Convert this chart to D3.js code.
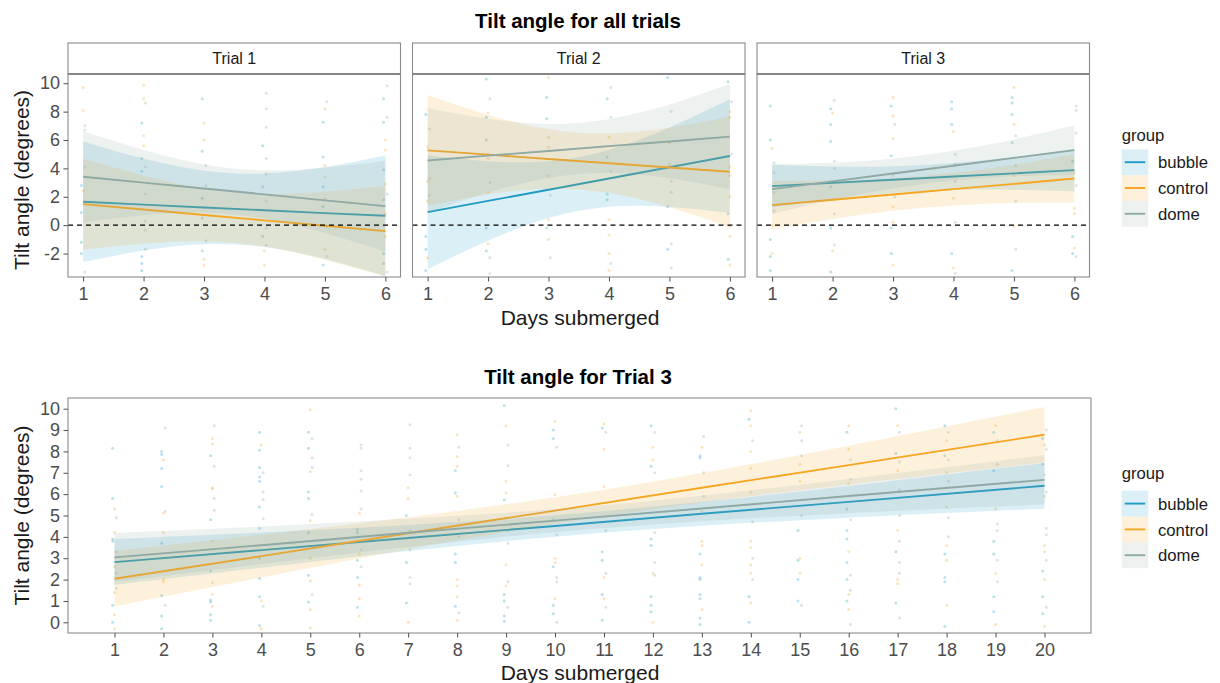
<!DOCTYPE html>
<html><head><meta charset="utf-8">
<script src="https://cdn.jsdelivr.net/npm/d3@7"></script>
<style>body{margin:0;background:#fff;} text{font-family:"Liberation Sans",Arial,sans-serif;}</style>
</head><body><svg id="chart" width="1220" height="683"></svg>
<script>
// ---------- data ----------
const groups = ["bubble", "control", "dome"];
const groupColors = ["#1F9BC4", "#F5A623", "#8FA9A4"];
const trialNames = ["Trial 1", "Trial 2", "Trial 3"];
const daysTop = [1, 2, 3, 4, 5, 6];
const topYTicks = [-2, 0, 2, 4, 6, 8, 10];
const daysBottom = [1,2,3,4,5,6,7,8,9,10,11,12,13,14,15,16,17,18,19,20];
const bottomYTicks = [0,1,2,3,4,5,6,7,8,9,10];
const bottomKnots = [1, 4, 7, 10, 13, 16, 20];

// fitted lines and confidence bands at daysTop, per group [bubble, control, dome]
const t1Fit = [[1.65,1.45,1.25,1.05,0.85,0.66],[1.48,1.10,0.72,0.34,-0.04,-0.42],[3.41,3.00,2.58,2.17,1.75,1.34]];
const t1Lo  = [[-2.60,-1.79,-1.34,-1.54,-2.39,-3.59],[-1.72,-1.30,-1.13,-1.51,-2.44,-3.62],[0.21,0.70,0.88,0.47,-0.55,-1.86]];
const t1Hi  = [[5.90,4.69,3.84,3.64,4.09,4.91],[4.68,3.50,2.57,2.19,2.36,2.78],[6.61,5.30,4.28,3.87,4.05,4.54]];
const t2Fit = [[0.92,1.71,2.50,3.29,4.08,4.87],[5.27,4.97,4.66,4.36,4.06,3.76],[4.56,4.90,5.23,5.57,5.90,6.24]];
const t2Lo  = [[-3.08,-1.09,0.50,1.29,1.28,0.87],[1.37,2.17,2.56,2.26,1.26,-0.14],[0.86,2.30,3.33,3.67,3.30,2.54]];
const t2Hi  = [[4.92,4.51,4.50,5.29,6.88,8.87],[9.17,7.77,6.76,6.46,6.86,7.66],[8.26,7.50,7.13,7.47,8.50,9.94]];
const t3Fit = [[2.75,2.98,3.20,3.43,3.65,3.88],[1.41,1.79,2.16,2.54,2.91,3.29],[2.54,3.09,3.64,4.19,4.74,5.29]];
const t3Lo  = [[1.25,1.83,2.25,2.48,2.50,2.38],[-0.29,0.44,1.01,1.39,1.56,1.59],[0.79,1.79,2.59,3.14,3.44,3.54]];
const t3Hi  = [[4.25,4.13,4.15,4.38,4.80,5.38],[3.11,3.14,3.31,3.69,4.26,4.99],[4.29,4.39,4.69,5.24,6.04,7.04]];

// raw observations per group, per day
const t1Pts = [
  [[2.8,0.9,-1.2,-2.0],[7.2,4.7,3.8,-2.2,-2.7,-3.2],[8.9,5.2,1.9,0.5,-1.8],[5.6,2.7,-0.8],[7.25,4.8,2.7,1.3,-2.8],[8.9,7.25,3.9,1.8,-2.0,-2.7]],
  [[9.7,8.1,2.4],[9.85,8.9,6.3,5.6],[7.2,6.0,-2.4,-2.8],[-1.8,-2.8],[8.2,4.2,3.4,1.9,-1.7],[6.0,5.3,2.9,0.8,-0.8]],
  [[7.0,6.7,4.1,-3.3],[8.6,4.1,2.2,0.3,-0.35,-1.7],[4.2,2.8,-1.1],[9.3,8.2,6.9,4.7,3.6,1.7,-0.2,-1.4],[8.7,-0.1,-2.2],[9.8,7.6,2.2,-3.3]]
];
const t2Pts = [
  [[7.8,-0.8,-1.7,-3.2],[10.3,7.6,6.0,-0.2,-1.8],[9.0,7.5,-0.2],[8.9,4.8,2.2,1.8],[10.4,1.3,-1.7],[10.1,0.8,-2.4]],
  [[5.5,3.1,1.7,-2.3],[7.9,5.0,4.7,2.3,-1.3],[10.4,6.2,5.5,3.5,0.4,-1.0],[6.2,0.4,-0.7,-2.0,-3.2],[5.8,4.3],[8.0,7.6,4.1,3.5,2.0,-0.1,-0.8,-2.8]],
  [[6.8,3.3,2.1],[8.9,3.0,-2.3,-3.4],[2.1,-2.3],[9.7,7.6,3.8,-2.7],[8.0,3.1,2.3,0.0,-1.3,-3.0],[8.7,5.0]]
];
const t3Pts = [
  [[8.4,6.0,-1.0,-2.2,-3.2],[8.2,7.1,5.9,2.7,-0.2,-3.3],[8.4,4.9,-0.2,-2.0],[8.7,8.2,7.1,-2.0],[9.0,8.6,7.8,5.8,-3.2],[4.5,-0.8,-2.0]],
  [[5.4,0.0,-2.0],[7.9,1.8,-1.8],[9.0,7.7,6.1,3.5,1.3,0.2,-2.8],[6.6,1.9,-3.0],[9.7,7.1,3.5,-0.1],[3.7,1.2,0.8,-1.6]],
  [[4.4,3.7,2.3,1.0],[8.8,4.5,4.0,0.8,-1.4],[7.1,2.0],[5.0,4.3,3.1,0.2,-3.4],[6.3,4.2,1.7,-1.7],[8.4,8.1,6.5,2.8,-2.2]]
];

// Trial 3 long run: fits at bottomKnots
const bFit = [[2.82,3.38,3.95,4.51,5.08,5.64,6.39],[2.04,3.10,4.17,5.23,6.30,7.36,8.78],[3.04,3.61,4.19,4.76,5.33,5.91,6.67]];
const bLo  = [[1.75,2.56,3.34,4.01,4.52,4.90,5.32],[0.74,2.10,3.42,4.61,5.61,6.45,7.48],[1.89,2.73,3.53,4.22,4.73,5.11,5.52]];
const bHi  = [[3.89,4.20,4.56,5.01,5.64,6.38,7.46],[3.34,4.10,4.92,5.85,6.99,8.27,10.08],[4.19,4.49,4.85,5.30,5.93,6.71,7.82]];
const bBubblePts = [[8.15,5.8,3.9,3.8,0.8,0.0],[8.0,7.85,7.2,6.35,3.7,1.25,0.3,-0.3],[7.8,4.8,2.4,1.05,0.95,0.35,0.1],[8.9,8.05,7.25,6.8,6.6,5.4,4.4,3.0,2.05,1.2,-0.15],[8.9,8.15,6.1,5.8,4.2,2.2,0.95],[4.35,4.2,2.9,2.1,0.7],[5.0,2.8,0.9],[7.1,6.05,3.2,2.8,0.75],[10.15,5.74,1.3,1.0,0.3,0.05],[9.0,8.6,4.8,2.6,0.8,0.4],[9.1,3.3,2.9,1.3,0.1],[9.2,7.3,3.9,3.6,1.2,0.8,0.5],[7.8,7.7,3.2,2.1,2.0,1.3,1.1,0.2,-0.1],[9.5,1.2,0.0],[4.3,2.9,2.0,1.0],[8.9,5.3,4.3,3.9,2.8,2.0,1.0],[10.0,7.9,3.3,0.9],[9.2,7.8,3.2,2.1,1.9,-0.2],[8.9,7.1,3.8,3.2,1.2,0.5],[8.6,7.4,2.4,1.2,0.4]];
const bControlPts = [[5.3,4.2,2.6,1.4,0.35,-0.3],[7.6,5.1,4.2,2.0,1.9],[8.6,8.35,6.3,6.25,3.8,1.85,1.3,0.75],[8.3,1.0,-0.3],[9.95,7.05,4.75,3.0,1.95,0.6,-0.25],[5.1,3.2,1.75,1.1,0.3],[6.3,5.8,0.0],[8.78,7.75,7.3,5.9,2.0,1.7,1.2,0.1],[9.2,6.6,6.05,2.7,1.7],[9.4,5.97,3.0,2.8,1.1],[9.3,8.1,6.36,2.1,1.1],[8.2,7.6,2.3,0.0],[8.2,5.2,3.8,3.6,2.7,0.6],[9.9,9.2,8.0,7.2,6.1,3.8,3.5,2.7,2.3,0.9],[8.9,7.4,6.6,3.0,2.3],[9.2,8.1,6.5,3.3,1.3,0.6],[9.2,7.1,4.3,2.0,1.8],[8.5,7.0,5.4,3.6,2.9,0.8],[9.2,5.3,2.3,-0.1],[8.3,6.9,5.9,3.6,3.3,2.0,-0.2]];
const bDomePts = [[4.9,3.3,2.3,1.6],[9.1,5.2,0.8],[9.2,7.3,5.8,5.25],[7.0,6.1,5.75,4.85,0.75],[8.6,7.7,7.25,5.05,1.3],[8.3,8.15,7.1,6.7,6.15,5.3,3.4,2.6],[9.25,8.15,7.7,6.9,4.3,3.4,2.1,1.8],[8.2,4.8,4.0,0.45],[8.3,7.33,4.3,3.7,1.9,0.7],[8.2,4.1,2.1,1.9,0.0],[8.9,4.3,2.3,0.7],[8.9,7.0,4.2,2.8,2.2],[8.7,7.0,5.9],[8.5,4.7,3.0,2.0],[9.2,8.5,7.8,5.0,0.8],[7.6,6.7,4.8,2.2,1.5,-0.1],[8.9,7.5,6.2,5.0,3.8,2.8,2.3,0.2],[8.9,7.6,6.6,4.9,4.0],[8.5,7.4,4.6,4.3,2.9,1.9],[9.0,8.1,6.1,4.4,4.1,2.9,0.7]];

// ---------- drawing ----------
const svg = d3.select("#chart");
const borderCol = "#8a8a8a", tickTextCol = "#4d4d4d", ribbonAlpha = 0.16;
const tickFont = "18px", axisTitleFont = "21px", titleFont = "20.5px", legendFont = "16.7px", stripFont = "16px";
const defs = svg.append("defs");
const fmt = d => String(d);

function drawPanel(opts) {
  const {x0, x1, y0, y1, xDomain, yDomain, knots, fits, los, his, pts, days, xTicks, yTicks, showY, id, zeroLine, curve} = opts;
  const x = d3.scaleLinear().domain(xDomain).range([x0, x1]);
  const y = d3.scaleLinear().domain(yDomain).range([y1, y0]);
  defs.append("clipPath").attr("id", id).append("rect")
    .attr("x", x0).attr("y", y0).attr("width", x1 - x0).attr("height", y1 - y0);
  const g = svg.append("g");
  const inner = g.append("g").attr("clip-path", `url(#${id})`);
  // points
  groups.forEach((grp, gi) => {
    pts[gi].forEach((vals, di) => {
      inner.selectAll(null).data(vals).enter().append("circle")
        .attr("cx", x(days[di]) + (gi - 1) * 1.8)
        .attr("cy", d => y(d)).attr("r", 1.5)
        .attr("fill", groupColors[gi]).attr("fill-opacity", 0.3);
    });
  });
  // ribbons + lines
  groups.forEach((grp, gi) => {
    const rows = knots.map((k, i) => ({k, lo: los[gi][i], hi: his[gi][i], f: fits[gi][i]}));
    inner.append("path").datum(rows)
      .attr("d", d3.area().curve(curve).x(d => x(d.k)).y0(d => y(d.lo)).y1(d => y(d.hi)))
      .attr("fill", groupColors[gi]).attr("fill-opacity", ribbonAlpha);
    inner.append("path").datum(rows)
      .attr("d", d3.line().x(d => x(d.k)).y(d => y(d.f)))
      .attr("fill", "none").attr("stroke", groupColors[gi]).attr("stroke-width", 1.9);
  });
  if (zeroLine) {
    inner.append("line").attr("x1", x0).attr("x2", x1).attr("y1", y(0)).attr("y2", y(0))
      .attr("stroke", "#000").attr("stroke-width", 1.2).attr("stroke-dasharray", "5,4");
  }
  g.append("rect").attr("x", x0).attr("y", y0).attr("width", x1 - x0).attr("height", y1 - y0)
    .attr("fill", "none").attr("stroke", borderCol).attr("stroke-width", 1.1);
  // x axis
  const xa = g.append("g").attr("transform", `translate(0,${y1})`)
    .call(d3.axisBottom(x).tickValues(xTicks).tickFormat(fmt).tickSize(4.5).tickPadding(5.5));
  xa.select(".domain").remove();
  xa.selectAll("line").attr("stroke", "#4d4d4d");
  xa.selectAll("text").attr("fill", tickTextCol).style("font-size", tickFont).style("font-family", "Liberation Sans, Arial, sans-serif");
  if (showY) {
    const ya = g.append("g").attr("transform", `translate(${x0},0)`)
      .call(d3.axisLeft(y).tickValues(yTicks).tickFormat(fmt).tickSize(4.5).tickPadding(3.5));
    ya.select(".domain").remove();
    ya.selectAll("line").attr("stroke", "#4d4d4d");
    ya.selectAll("text").attr("fill", tickTextCol).style("font-size", tickFont).style("font-family", "Liberation Sans, Arial, sans-serif");
  }
  return {x, y};
}

// Top facets
const panelX = [68, 412.5, 757];
const panelW = 332.5;
const topFits = [t1Fit, t2Fit, t3Fit], topLos = [t1Lo, t2Lo, t3Lo], topHis = [t1Hi, t2Hi, t3Hi], topPts = [t1Pts, t2Pts, t3Pts];
trialNames.forEach((name, i) => {
  const x0 = panelX[i], x1 = x0 + panelW;
  // strip
  svg.append("rect").attr("x", x0).attr("y", 43).attr("width", panelW).attr("height", 31)
    .attr("fill", "#fff").attr("stroke", borderCol).attr("stroke-width", 1.1);
  svg.append("line").attr("x1", x0).attr("x2", x1).attr("y1", 74).attr("y2", 74)
    .attr("stroke", "#808080").attr("stroke-width", 2);
  svg.append("text").attr("x", (x0 + x1) / 2).attr("y", 64).attr("text-anchor", "middle")
    .style("font-size", stripFont).attr("fill", "#1a1a1a").text(name);
  drawPanel({x0, x1, y0: 74, y1: 277, xDomain: [0.75, 6.25], yDomain: [-3.65, 10.65],
    knots: daysTop, fits: topFits[i], los: topLos[i], his: topHis[i], pts: topPts[i], days: daysTop,
    xTicks: daysTop, yTicks: topYTicks, showY: i === 0, id: "clipTop" + i, zeroLine: true,
    curve: d3.curveNatural});
});

// Bottom panel
drawPanel({x0: 68, x1: 1091, y0: 398, y1: 633, xDomain: [0.05, 20.95], yDomain: [-0.5, 10.5],
  knots: bottomKnots, fits: bFit, los: bLo, his: bHi, pts: [bBubblePts, bControlPts, bDomePts], days: daysBottom,
  xTicks: daysBottom, yTicks: bottomYTicks, showY: true, id: "clipBottom", zeroLine: false,
  curve: d3.curveCatmullRom.alpha(0.5)});

// Titles
svg.append("text").attr("x", 578).attr("y", 27.7).attr("text-anchor", "middle")
  .style("font-size", titleFont).style("font-weight", "bold").attr("fill", "#000").text("Tilt angle for all trials");
svg.append("text").attr("x", 578).attr("y", 384).attr("text-anchor", "middle")
  .style("font-size", titleFont).style("font-weight", "bold").attr("fill", "#000").text("Tilt angle for Trial 3");
// Axis titles
svg.append("text").attr("x", 580).attr("y", 325).attr("text-anchor", "middle")
  .style("font-size", axisTitleFont).attr("fill", "#1a1a1a").text("Days submerged");
svg.append("text").attr("x", 580).attr("y", 680).attr("text-anchor", "middle")
  .style("font-size", axisTitleFont).attr("fill", "#1a1a1a").text("Days submerged");
svg.append("text").attr("transform", "translate(28.5,180) rotate(-90)").attr("text-anchor", "middle")
  .style("font-size", axisTitleFont).attr("fill", "#1a1a1a").text("Tilt angle (degrees)");
svg.append("text").attr("transform", "translate(28.5,515.5) rotate(-90)").attr("text-anchor", "middle")
  .style("font-size", axisTitleFont).attr("fill", "#1a1a1a").text("Tilt angle (degrees)");

// Legends
function legend(titleY, keyTop) {
  const lg = svg.append("g").attr("transform", "translate(1121.7,0)");
  lg.append("text").attr("x", 0).attr("y", titleY).style("font-size", legendFont).attr("fill", "#1a1a1a").text("group");
  groups.forEach((grp, i) => {
    const ky = keyTop + i * 25.8;
    lg.append("rect").attr("x", 0).attr("y", ky).attr("width", 26.6).attr("height", 25.8)
      .attr("fill", groupColors[i]).attr("fill-opacity", ribbonAlpha);
    lg.append("line").attr("x1", 3).attr("x2", 23.6).attr("y1", ky + 12.9).attr("y2", ky + 12.9)
      .attr("stroke", groupColors[i]).attr("stroke-width", 1.9);
    lg.append("text").attr("x", 36.3).attr("y", ky + 19).style("font-size", legendFont).attr("fill", "#1a1a1a").text(grp);
  });
}
legend(140.5, 149.3);
legend(478.5, 490.7);
</script></body></html>
